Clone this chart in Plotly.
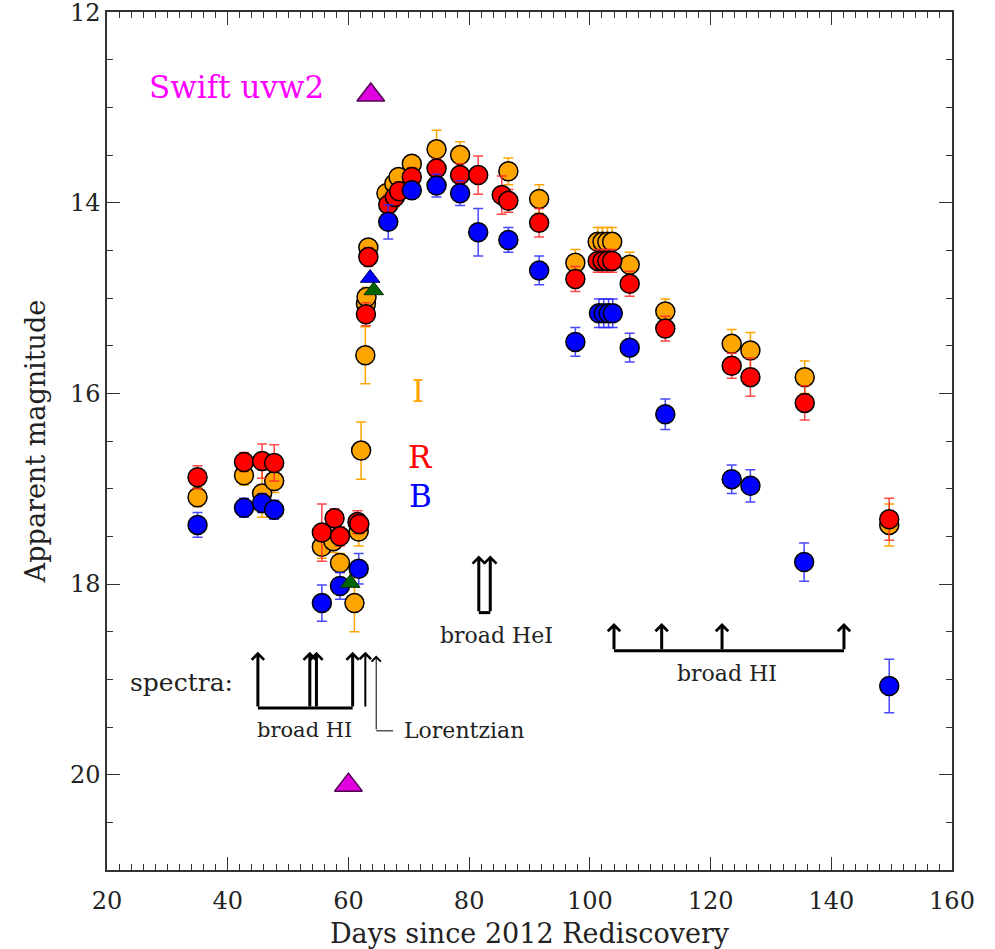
import plotly.graph_objects as go

# ---------------- photometry (apparent magnitudes) ----------------
i_day = [35.0, 42.7, 45.7, 47.7, 55.6, 57.5, 58.6, 61.0, 61.7, 62.1, 62.8, 62.9, 63.0,
         63.3, 66.3, 67.6, 68.3, 70.5, 74.6, 78.5, 86.5, 91.6, 97.6, 101.3, 102.1,
         102.9, 103.7, 106.6, 112.5, 123.5, 126.6, 135.6, 149.6]
i_mag = [17.09, 16.86, 17.05, 16.92, 17.61, 17.55, 17.78, 18.20, 17.45, 16.60, 15.60, 15.06, 14.99,
         14.47, 13.90, 13.80, 13.73, 13.59, 13.44, 13.50, 13.67, 13.96, 14.63, 14.41, 14.41,
         14.41, 14.41, 14.65, 15.14, 15.48, 15.55, 15.83, 17.38]
i_err = [0.10, 0.10, 0.25, 0.12, 0.12, 0.12, 0.10, 0.30, 0.15, 0.30, 0.30, 0.10, 0.10,
         0.08, 0.08, 0.08, 0.08, 0.08, 0.20, 0.14, 0.14, 0.15, 0.14, 0.15, 0.15,
         0.15, 0.15, 0.13, 0.13, 0.15, 0.19, 0.17, 0.22]

r_day = [35.0, 42.7, 45.7, 47.7, 55.6, 57.7, 58.6, 61.5, 61.8, 62.9, 63.3, 66.6, 67.7,
         68.4, 70.5, 74.6, 78.5, 81.5, 85.4, 86.5, 91.6, 97.6, 101.3, 102.1, 102.9,
         103.7, 106.6, 112.5, 123.5, 126.6, 135.6, 149.6]
r_mag = [16.88, 16.72, 16.71, 16.73, 17.46, 17.31, 17.50, 17.35, 17.37, 15.17, 14.57, 14.02, 13.94,
         13.88, 13.73, 13.64, 13.71, 13.71, 13.92, 13.98, 14.21, 14.80, 14.61, 14.61, 14.61,
         14.61, 14.85, 15.32, 15.71, 15.83, 16.10, 17.32]
r_err = [0.12, 0.10, 0.18, 0.19, 0.30, 0.10, 0.10, 0.12, 0.10, 0.12, 0.10, 0.10, 0.10,
         0.10, 0.10, 0.10, 0.12, 0.20, 0.20, 0.12, 0.15, 0.13, 0.12, 0.12, 0.12,
         0.12, 0.13, 0.13, 0.13, 0.20, 0.18, 0.22]

b_day = [35.0, 42.7, 45.7, 47.7, 55.6, 58.6, 61.7, 66.6, 70.5, 74.6, 78.5, 81.5, 86.5,
         91.6, 97.6, 101.5, 102.3, 103.1, 103.8, 106.6, 112.5, 123.5, 126.6, 135.5, 149.6]
b_mag = [17.38, 17.20, 17.15, 17.22, 18.20, 18.02, 17.84, 14.20, 13.87, 13.82, 13.90, 14.31, 14.39,
         14.71, 15.46, 15.16, 15.16, 15.16, 15.16, 15.52, 16.22, 16.90, 16.97, 17.77, 19.07]
b_err = [0.13, 0.10, 0.10, 0.10, 0.19, 0.14, 0.16, 0.18, 0.08, 0.12, 0.13, 0.25, 0.13,
         0.15, 0.15, 0.15, 0.15, 0.15, 0.15, 0.15, 0.16, 0.15, 0.17, 0.20, 0.28]

# Swift UVOT points
uvw2_day = [63.7, 60.0]
uvw2_mag = [12.87, 20.11]
swift_v_day = [60.3, 64.2]
swift_v_mag = [17.99, 14.92]
swift_b_day = [63.6]
swift_b_mag = [14.79]

# ---------------- spectroscopic epochs ----------------
spec_hi_early = [45.0, 53.6, 54.7, 60.7]
spec_mid = [62.8]
spec_lorentz = [64.6]
spec_hei = [81.6, 83.5]
spec_hi_late = [104.0, 111.9, 121.9, 142.1]

# axis tick values
x_ticks = [20, 40, 60, 80, 100, 120, 140, 160]
y_ticks = [12, 14, 16, 18, 20]

FONT = "DejaVu Serif"
ORANGE = "#FFA500"
RED = "#FF0000"
BLUE = "#0000FF"

fig = go.Figure()


def phot(days, mags, errs, fill, barcol):
    fig.add_trace(go.Scatter(
        x=days, y=mags, mode="markers",
        marker=dict(size=19, color=fill, line=dict(color="black", width=1.5)),
        error_y=dict(type="data", array=errs, symmetric=True,
                     color=barcol, thickness=1.5, width=5),
        showlegend=False, hoverinfo="skip"))


phot(i_day, i_mag, i_err, ORANGE, ORANGE)
phot(r_day, r_mag, r_err, RED, "rgba(255,40,40,0.85)")
phot(b_day, b_mag, b_err, BLUE, "rgba(40,40,255,0.85)")

fig.add_trace(go.Scatter(
    x=swift_v_day, y=swift_v_mag, mode="markers",
    marker=dict(symbol="triangle-up", size=17, color="#006400",
                line=dict(color="#003000", width=1)),
    showlegend=False, hoverinfo="skip"))
fig.add_trace(go.Scatter(
    x=swift_b_day, y=swift_b_mag, mode="markers",
    marker=dict(symbol="triangle-up", size=17, color=BLUE,
                line=dict(color="#000060", width=1)),
    showlegend=False, hoverinfo="skip"))
fig.add_trace(go.Scatter(
    x=uvw2_day, y=uvw2_mag, mode="markers",
    marker=dict(symbol="triangle-up", size=24, color="#E000E0",
                line=dict(color="#500050", width=1.5)),
    showlegend=False, hoverinfo="skip"))

# ---------------- spectra markers: brackets and arrows ----------------
HI_EARLY_TIP, HI_EARLY_BASE = 18.71, 19.30
LOR_TIP, LOR_BASE, LOR_END = 18.75, 19.54, 67.4
HEI_TIP, HEI_BASE = 17.70, 18.30
HI_LATE_TIP, HI_LATE_BASE = 18.41, 18.70


def bracket(x0, x1, y, width):
    fig.add_trace(go.Scatter(
        x=[x0, x1], y=[y, y], mode="lines",
        line=dict(color="black", width=width),
        showlegend=False, hoverinfo="skip"))


def arrows(days, tip, base, width, size):
    for d in days:
        fig.add_annotation(
            x=d, y=tip, ax=d, ay=base, xref="x", yref="y", axref="x", ayref="y",
            text="", showarrow=True, arrowhead=4, arrowwidth=width,
            arrowsize=size, arrowcolor="black", standoff=0, startstandoff=0)


bracket(spec_hi_early[0], spec_hi_early[-1], HI_EARLY_BASE, 3)
arrows(spec_hi_early, HI_EARLY_TIP, HI_EARLY_BASE, 3, 0.8)
arrows(spec_mid, HI_EARLY_TIP, HI_EARLY_BASE, 2, 1.1)
bracket(spec_lorentz[0], LOR_END, LOR_BASE, 1)
arrows(spec_lorentz, LOR_TIP, LOR_BASE, 1, 1.8)
bracket(spec_hei[0], spec_hei[-1], HEI_BASE, 3)
arrows(spec_hei, HEI_TIP, HEI_BASE, 3, 0.8)
bracket(spec_hi_late[0], spec_hi_late[-1], HI_LATE_BASE, 3)
arrows(spec_hi_late, HI_LATE_TIP, HI_LATE_BASE, 3, 0.8)


def label(x, y, text, size, color="#222222", xanchor="center"):
    fig.add_annotation(x=x, y=y, xref="x", yref="y", text=text, showarrow=False,
                       xanchor=xanchor, yanchor="middle",
                       font=dict(family=FONT, size=size, color=color))


label(32.4, 19.03, "spectra:", 25)
label(52.7, 19.53, "broad HI", 21)
label(68.85, 19.54, "Lorentzian", 22, xanchor="left")
label(84.6, 18.54, "broad HeI", 22)
label(122.7, 18.94, "broad HI", 22)
label(41.4, 12.79, "Swift uvw2", 31, color="#FF00FF")
label(71.6, 15.98, "I", 31, color=ORANGE)
label(72.0, 16.67, "R", 31, color=RED)
label(72.0, 17.08, "B", 31, color=BLUE)

axis_common = dict(
    showline=True, linecolor="#333333", linewidth=1.5, mirror="ticks",
    ticks="inside", ticklen=13, tickwidth=1.2, tickcolor="#333333",
    showgrid=False, zeroline=False, ticklabeloverflow="allow",
    tickfont=dict(family=FONT, size=24, color="#222222"),
)

fig.update_xaxes(
    range=[20, 160], tickmode="array", tickvals=x_ticks,
    ticklabelstandoff=8,
    minor=dict(dtick=2, tick0=20, ticks="inside", ticklen=6, tickcolor="#333333", tickwidth=1),
    title=dict(text="Days since 2012 Rediscovery", standoff=14,
               font=dict(family=FONT, size=27, color="#222222")),
    **axis_common)
fig.update_yaxes(
    range=[21, 11.999], tickmode="array", tickvals=y_ticks,
    minor=dict(dtick=0.5, tick0=12, ticks="inside", ticklen=6, tickcolor="#333333", tickwidth=1),
    title=dict(text="Apparent magnitude", standoff=16,
               font=dict(family=FONT, size=27, color="#222222")),
    **axis_common)

fig.update_layout(
    width=995, height=949,
    margin=dict(l=107, r=43, t=12, b=79, autoexpand=False),
    plot_bgcolor="white", paper_bgcolor="white",
    showlegend=False,
)

fig.write_html("out.html")
